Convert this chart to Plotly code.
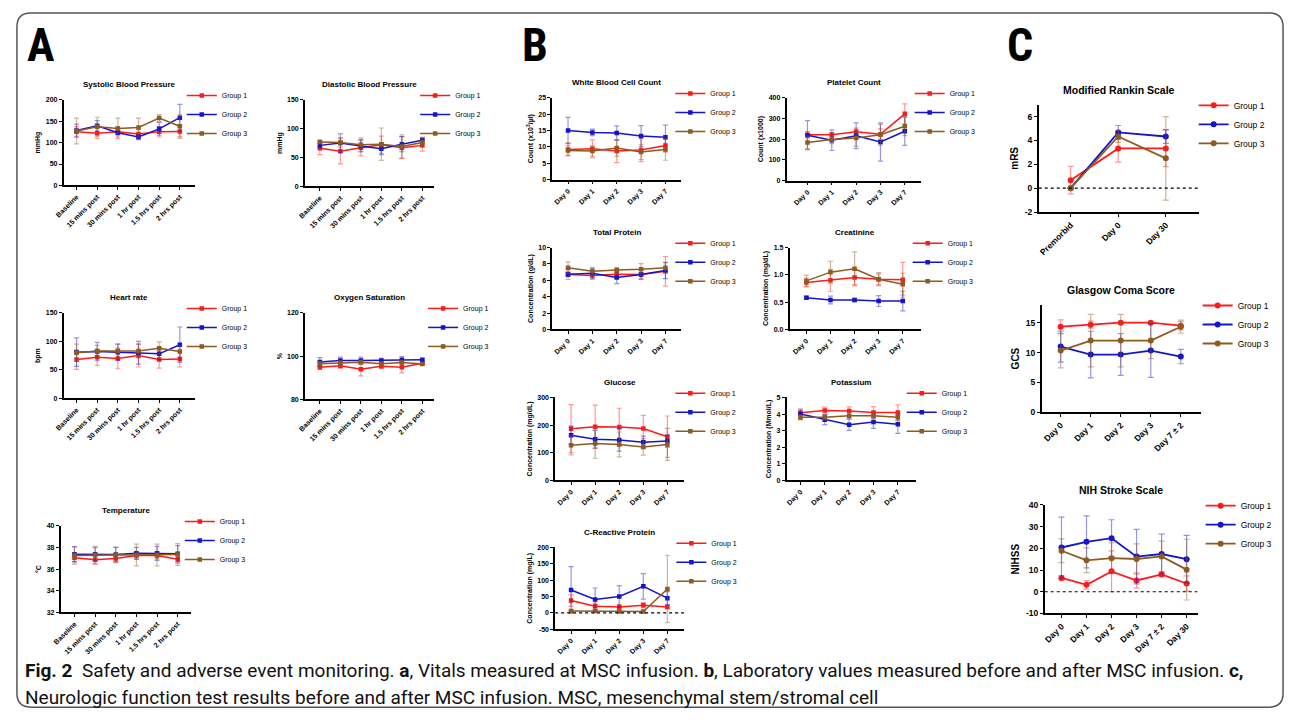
import plotly.graph_objects as go

W, H = 1290, 722
FONT = "Liberation Sans, Arial, sans-serif"

groups = ["Group 1", "Group 2", "Group 3"]
colors = ["#FF1A1A", "#1414CC", "#8E5A1F"]
err_colors = ["rgba(255,26,26,0.45)", "rgba(20,20,204,0.45)", "rgba(142,90,31,0.45)"]

vital_times = ["Baseline", "15 mins post", "30 mins post", "1 hr post", "1.5 hrs post", "2 hrs post"]
lab_days = ["Day 0", "Day 1", "Day 2", "Day 3", "Day 7"]
mrs_times = ["Premorbid", "Day 0", "Day 30"]
gcs_days = ["Day 0", "Day 1", "Day 2", "Day 3", "Day 7 ± 2"]
nihss_days = ["Day 0", "Day 1", "Day 2", "Day 3", "Day 7 ± 2", "Day 30"]

sbp_mean = [[125, 122, 125, 120, 125, 126], [128, 139, 123, 113, 132, 158], [127, 137, 133, 135, 157, 138]]
sbp_sd = [[12, 12, 12, 10, 12, 12], [15, 12, 5, 6, 15, 31], [30, 22, 24, 22, 8, 28]]

dbp_mean = [[66, 61, 67, 72, 67, 71], [71, 75, 70, 65, 73, 80], [77, 76, 72, 73, 69, 76]]
dbp_sd = [[11, 22, 14, 15, 19, 10], [5, 16, 10, 10, 13, 5], [3, 8, 12, 28, 20, 8]]

hr_mean = [[68, 72, 70, 75, 68, 69], [81, 82, 81, 80, 78, 94], [80, 83, 83, 83, 88, 82]]
hr_sd = [[17, 14, 18, 20, 15, 14], [25, 16, 14, 20, 10, 31], [15, 10, 12, 12, 11, 10]]

spo2_mean = [[94.8, 95.5, 93.9, 95.3, 94.8, 96.7], [97.3, 98.0, 98.0, 98.0, 98.3, 98.3], [96.5, 96.8, 97.2, 96.5, 97.0, 96.3]]
spo2_sd = [[1.0, 1.2, 3.0, 1.0, 2.5, 0.5], [2.0, 1.5, 1.5, 1.0, 1.5, 0.5], [1.0, 1.0, 1.0, 1.0, 1.0, 0.5]]

temp_mean = [[37.04, 36.85, 36.98, 37.25, 37.25, 36.9], [37.37, 37.37, 37.35, 37.45, 37.45, 37.42], [37.25, 37.3, 37.3, 37.3, 37.3, 37.35]]
temp_sd = [[0.35, 0.4, 0.35, 0.3, 0.3, 0.35], [0.7, 0.6, 0.65, 0.55, 0.65, 0.75], [0.8, 0.8, 0.7, 1.0, 1.0, 1.0]]

wbc_mean = [[9.2, 9.4, 8.7, 9.0, 10.4], [15.0, 14.4, 14.2, 13.3, 12.9], [8.9, 8.7, 9.6, 8.4, 9.2]]
wbc_sd = [[2.0, 2.7, 3.5, 3.5, 2.0], [4.0, 1.0, 2.2, 3.2, 3.7], [1.5, 1.5, 2.5, 2.3, 3.3]]

plt_mean = [[221, 221, 235, 224, 322], [219, 195, 216, 186, 238], [184, 198, 205, 221, 262]]
plt_sd = [[15, 10, 18, 25, 48], [70, 50, 62, 92, 68], [30, 20, 40, 50, 45]]

tp_mean = [[6.7, 6.6, 6.75, 6.7, 7.1], [6.75, 6.85, 6.35, 6.7, 7.2], [7.55, 7.1, 7.25, 7.35, 7.55]]
tp_sd = [[0.6, 0.5, 0.5, 0.5, 1.8], [0.3, 0.6, 0.75, 0.6, 1.0], [0.7, 0.5, 0.3, 0.7, 0.6]]

cr_mean = [[0.86, 0.90, 0.95, 0.92, 0.91], [0.58, 0.54, 0.54, 0.52, 0.52], [0.89, 1.05, 1.11, 0.92, 0.83]]
cr_sd = [[0.08, 0.2, 0.13, 0.1, 0.32], [0.03, 0.07, 0.03, 0.1, 0.18], [0.1, 0.2, 0.31, 0.12, 0.2]]

glu_mean = [[187, 194, 193, 188, 158], [163, 149, 146, 138, 142], [127, 133, 130, 121, 130]]
glu_sd = [[87, 78, 68, 47, 75], [33, 32, 40, 22, 22], [35, 53, 45, 30, 58]]

k_mean = [[4.08, 4.22, 4.18, 4.1, 4.1], [4.0, 3.66, 3.36, 3.52, 3.38], [3.8, 3.8, 3.9, 3.9, 3.8]]
k_sd = [[0.15, 0.2, 0.25, 0.35, 0.45], [0.3, 0.3, 0.35, 0.38, 0.55], [0.15, 0.15, 0.2, 0.15, 0.2]]

crp_mean = [[38, 20, 18, 23, 18], [70, 41, 50, 81, 45], [6, 6, 4, 4, 73]]
crp_sd = [[18, 10, 8, 8, 5], [71, 35, 33, 39, 20], [3, 3, 3, 3, 103]]

mrs_mean = [[0.67, 3.33, 3.33], [0.0, 4.67, 4.33], [0.0, 4.33, 2.5]]
mrs_sd = [[1.15, 1.15, 1.53], [0.0, 0.58, 0.58], [0.0, 0.5, 3.5]]

gcs_mean = [[14.33, 14.67, 15.0, 15.0, 14.5], [11.0, 9.67, 9.67, 10.33, 9.33], [10.33, 12.0, 12.0, 12.0, 14.33]]
gcs_sd = [[1.15, 0.58, 0.0, 0.0, 0.7], [2.6, 3.9, 3.5, 4.5, 1.2], [2.9, 4.4, 4.4, 3.0, 1.1]]

nih_mean = [[6.4, 3.2, 9.4, 5.2, 8.0, 3.8], [20.4, 23.0, 24.7, 16.2, 17.4, 15.0], [18.9, 14.5, 15.5, 15.1, 16.3, 10.2]]
nih_sd = [[1.0, 2.0, 9.4, 3.5, 1.0, 3.5], [14.0, 12.0, 8.5, 12.6, 9.2, 11.0], [5.5, 5.7, 7.0, 7.0, 7.0, 14.0]]

# panel specs: title, y title, categories, means, sds, y ticks, geometry(px: left,right,top,bottom), x range,
# legend (text x px, first item y px), size class, zero line
panels = [
    ("Systolic Blood Pressure", "mmHg", vital_times, sbp_mean, sbp_sd, [0, 50, 100, 150, 200],
     (55, 187, 96, 183), [-0.625, 5.72], (220, 102), "s", False),
    ("Diastolic Blood Pressure", "mmHg", vital_times, dbp_mean, dbp_sd, [0, 50, 100, 150],
     (298, 428, 96, 184), [-0.73, 5.57], (455, 102), "s", False),
    ("Heart rate", "bpm", vital_times, hr_mean, hr_sd, [0, 50, 100, 150],
     (55, 187, 312, 399), [-0.625, 5.72], (220, 318), "s", False),
    ("Oxygen Saturation", "%", vital_times, spo2_mean, spo2_sd, [80, 100, 120],
     (298, 428, 312, 400), [-0.73, 5.57], (463, 318), "s", False),
    ("Temperature", "°C", vital_times, temp_mean, temp_sd, [32, 34, 36, 38, 40],
     (52, 183, 528, 616), [-0.67, 5.63], (218, 534), "s", False),
    ("White Blood Cell Count", "Count (x10<sup>3</sup>/µl)", lab_days, wbc_mean, wbc_sd, [0, 5, 10, 15, 20, 25],
     (547, 677, 94, 177), [-0.65, 4.65], (712, 100), "s", False),
    ("Platelet Count", "Count (x1000)", lab_days, plt_mean, plt_sd, [0, 100, 200, 300, 400],
     (783, 918, 94, 178), [-0.86, 4.65], (953, 100), "s", False),
    ("Total Protein", "Concentration (g/dL)", lab_days, tp_mean, tp_sd, [0, 2, 4, 6, 8, 10],
     (547, 677, 246, 329), [-0.65, 4.65], (712, 252), "s", False),
    ("Creatinine", "Concentration (mg/dL)", lab_days, cr_mean, cr_sd, [0.0, 0.5, 1.0, 1.5],
     (786, 918, 246, 329), [-0.7, 4.74], (951, 252), "s", False),
    ("Glucose", "Concentration (mg/dL)", lab_days, glu_mean, glu_sd, [0, 100, 200, 300],
     (550, 680, 398, 482), [-0.66, 4.7], (712, 404), "s", False),
    ("Potassium", "Concentration (Mmol/L)", lab_days, k_mean, k_sd, [0, 1, 2, 3, 4, 5],
     (783, 913, 398, 482), [-0.57, 4.73], (945, 404), "s", False),
    ("C-Reactive Protein", "Concentration (mg/L)", lab_days, crp_mean, crp_sd, [-50, 0, 50, 100, 150, 200],
     (550, 680, 550, 633), [-0.66, 4.7], (713, 556), "s", True),
    ("Modified Rankin Scale", "mRS", mrs_times, mrs_mean, mrs_sd, [-2, 0, 2, 4, 6],
     (1037, 1198, 101, 210), [-0.67, 2.69], (1239, 109), "c", True),
    ("Glasgow Coma Score", "GCS", gcs_days, gcs_mean, gcs_sd, [0, 5, 10, 15],
     (1040, 1200, 304, 413), [-0.63, 4.66], (1243, 312), "c", False),
    ("NIH Stroke Scale", "NIHSS", nihss_days, nih_mean, nih_sd, [-10, 0, 10, 20, 30, 40],
     (1043, 1197, 507, 617), [-0.67, 5.44], (1246, 515), "c", True),
]
y_ranges = [[0, 200], [0, 150], [0, 150], [80, 120], [32, 40], [0, 25], [0, 400], [0, 10], [0, 1.5],
            [0, 300], [0, 5], [-50, 200], [-2, 7], [0, 18], [-10, 40]]


def px_x(x):
    return x / W


def px_y(y):
    return 1 - y / H


fig = go.Figure()
layout = dict(
    width=W, height=H, margin=dict(l=0, r=0, t=0, b=0),
    paper_bgcolor="white", plot_bgcolor="white",
    font=dict(family=FONT, color="black"),
    annotations=[], shapes=[],
)

for i, (title, ytitle, cats, means, sds, yticks, geom, xr, leg, cls, zero) in enumerate(panels):
    k = i + 1
    sfx = "" if k == 1 else str(k)
    xa, ya = "x" + sfx, "y" + sfx
    lg = "legend" + sfx
    big = cls == "c"
    tick_size = 8.5 if big else 7
    title_size = 10.5 if big else 8
    axis_title_size = 10 if big else 7
    leg_size = 8.5 if big else 7
    msym = "circle" if big else "square"
    msize = 6 if big else 4.5
    lw = 1.8 if big else 1.5
    left, right, top, bottom = geom
    for g in range(3):
        fig.add_trace(go.Scatter(
            x=cats, y=means[g], name=groups[g], mode="lines+markers",
            line=dict(color=colors[g], width=lw),
            marker=dict(symbol=msym, size=msize, color=colors[g]),
            error_y=dict(type="data", array=sds[g], visible=True, color=err_colors[g],
                         thickness=1.2, width=2.5 if not big else 3),
            xaxis=xa, yaxis=ya, legend=lg, showlegend=True,
        ))
    layout["xaxis" + sfx] = dict(
        domain=[px_x(left), px_x(right)], anchor=ya, range=xr, type="category",
        showline=True, linecolor="black", linewidth=1.5, ticks="outside", ticklen=3,
        tickwidth=1.2, tickcolor="black", tickangle=-45, showgrid=False, zeroline=False,
        tickfont=dict(family=FONT, size=tick_size, weight="bold"),
    )
    layout["yaxis" + sfx] = dict(
        domain=[px_y(bottom), px_y(top)], anchor=xa, range=y_ranges[i],
        tickvals=yticks, ticktext=[("%.1f" % v) if title == "Creatinine" else str(v) for v in yticks],
        showline=True, linecolor="black", linewidth=1.5, ticks="outside", ticklen=3,
        tickwidth=1.2, tickcolor="black", showgrid=False, zeroline=False,
        tickfont=dict(family=FONT, size=tick_size, weight="bold"),
        title=dict(text="<b>" + ytitle + "</b>", font=dict(family=FONT, size=axis_title_size), standoff=4),
    )
    ytop = leg[1] - (22 if big else 25)
    layout[lg] = dict(
        x=px_x(leg[0] - 46), y=px_y(ytop), xanchor="left", yanchor="top",
        bgcolor="rgba(0,0,0,0)", font=dict(family=FONT, size=leg_size), tracegroupgap=0,
    )
    layout["annotations"].append(dict(
        text="<b>" + title + "</b>", x=px_x((left + right) / 2), y=px_y(top - 15),
        xref="paper", yref="paper", showarrow=False, xanchor="center", yanchor="middle",
        font=dict(family=FONT, size=title_size),
    ))
    if zero:
        layout["shapes"].append(dict(
            type="line", xref=xa, yref=ya, x0=xr[0], x1=xr[1], y0=0, y1=0,
            line=dict(color="black", width=1.2, dash="dot"),
        ))

# panel letters
for letter, lx in (("A", 32), ("B", 530), ("C", 1018)):
    layout["annotations"].append(dict(
        text="<b>" + letter + "</b>", x=px_x(lx), y=px_y(41), xref="paper", yref="paper",
        showarrow=False, xanchor="center", yanchor="middle",
        font=dict(family="Roboto Condensed, Liberation Sans, Arial, sans-serif", size=46),
    ))

# caption
CAP_FONT = "Roboto, Liberation Sans, sans-serif"
cap1 = ("<b>Fig. 2</b>  Safety and adverse event monitoring. <b>a</b>, Vitals measured at MSC infusion. "
        "<b>b</b>, Laboratory values measured before and after MSC infusion. <b>c,</b>")
cap2 = "Neurologic function test results before and after MSC infusion. MSC, mesenchymal stem/stromal cell"
for txt, cy in ((cap1, 675), (cap2, 702)):
    layout["annotations"].append(dict(
        text=txt, x=px_x(14), y=px_y(cy), xref="paper", yref="paper", showarrow=False,
        xanchor="left", yanchor="middle", align="left",
        font=dict(family=CAP_FONT, size=19, color="#111"),
    ))

# rounded border
x0, y0, x1, y1, r = 8, 8, 1283, 712, 14


def P(x, y):
    return "%.5f,%.5f" % (px_x(x), px_y(y))


path = ("M " + P(x0 + r, y0) + " L " + P(x1 - r, y0) + " Q " + P(x1, y0) + " " + P(x1, y0 + r) +
        " L " + P(x1, y1 - r) + " Q " + P(x1, y1) + " " + P(x1 - r, y1) +
        " L " + P(x0 + r, y1) + " Q " + P(x0, y1) + " " + P(x0, y1 - r) +
        " L " + P(x0, y0 + r) + " Q " + P(x0, y0) + " " + P(x0 + r, y0) + " Z")
layout["shapes"].append(dict(type="path", xref="paper", yref="paper", path=path,
                             line=dict(color="#555", width=1.5), layer="below"))

fig.update_layout(**layout)
fig.write_html("out.html", config={"displayModeBar": False},
               post_script="document.body.style.margin='0';")
